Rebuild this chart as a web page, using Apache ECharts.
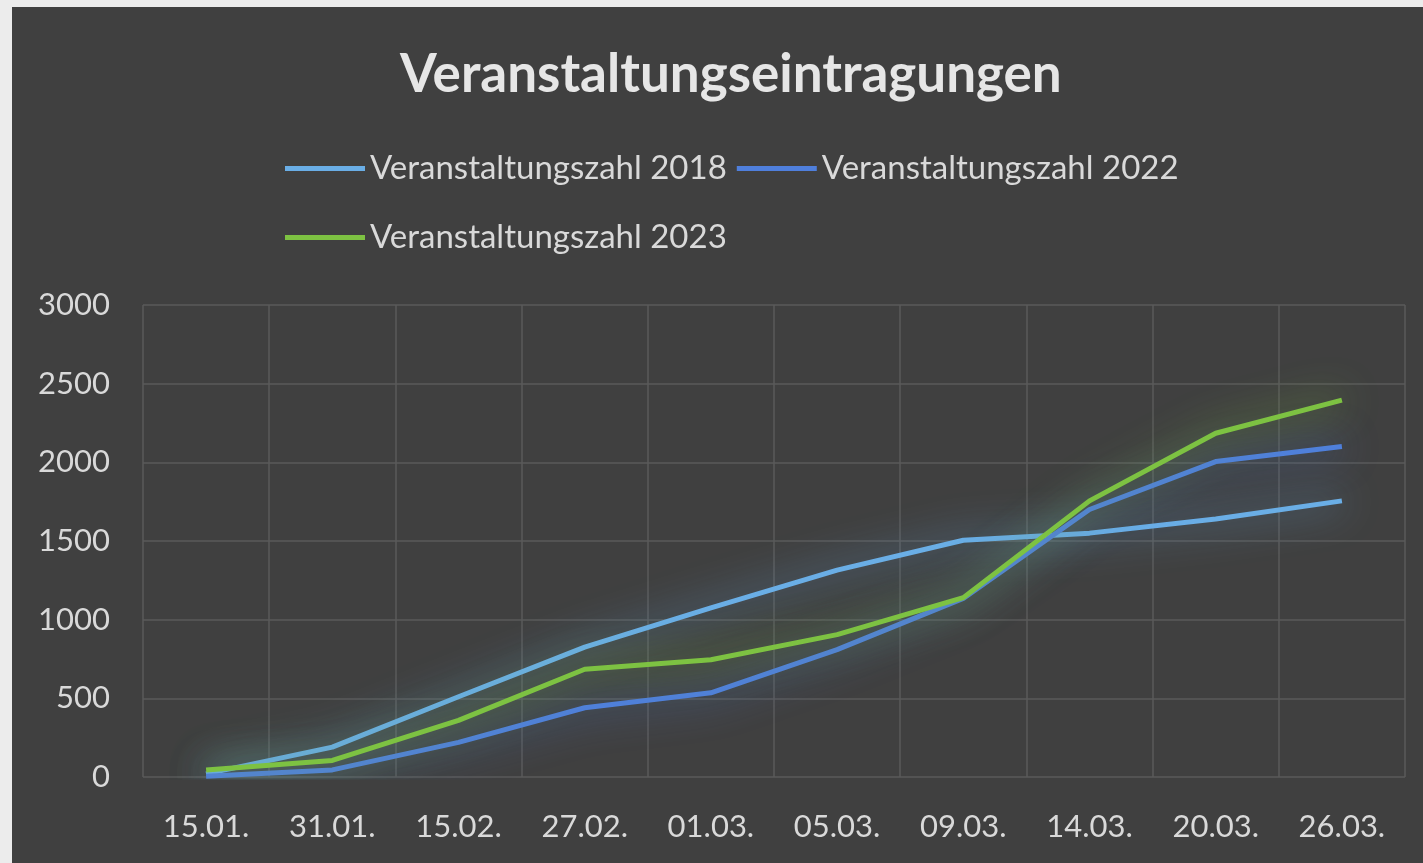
<!DOCTYPE html>
<html>
<head>
<meta charset="utf-8">
<script src="https://cdn.jsdelivr.net/npm/echarts@6/dist/echarts.min.js"></script>
<style>
  html, body { margin: 0; padding: 0; background: #ececec; }
  #myChart { position: absolute; left: 12px; top: 7px; width: 1411px; height: 856px; }
</style>
</head>
<body>
<div id="myChart"></div>
<script>
// Daten
var dates = ["15.01.", "31.01.", "15.02.", "27.02.", "01.03.", "05.03.", "09.03.", "14.03.", "20.03.", "26.03."];
var zahl2018 = [20, 190, 510, 825, 1075, 1315, 1505, 1550, 1640, 1755];
var zahl2022 = [5, 45, 220, 440, 535, 810, 1135, 1700, 2005, 2100];
var zahl2023 = [45, 105, 360, 685, 745, 905, 1140, 1755, 2185, 2395];
var yTicks = [0, 500, 1000, 1500, 2000, 2500, 3000];

var names = ["Veranstaltungszahl 2018", "Veranstaltungszahl 2022", "Veranstaltungszahl 2023"];
var colors = ["#6aaee6", "#4f7fdc", "#7dc242"];

function makeSeries(name, data, color) {
    return {
        name: name,
        type: "line",
        data: data,
        showSymbol: false,
        symbol: "none",
        lineStyle: {
            width: 5,
            color: color,
            shadowBlur: 38,
            shadowColor: color
        },
        itemStyle: { color: color }
    };
}

var myChart = echarts.init(document.getElementById("myChart"));
var legendText = { color: "#d9d9d9", fontSize: 33, fontFamily: "Lato" };

myChart.setOption({
    backgroundColor: "#404040",
    title: {
        text: "Veranstaltungseintragungen",
        left: 383,
        top: 36,
        textStyle: { color: "#e6e6e6", fontSize: 53, fontWeight: "bold", fontFamily: "Lato" }
    },
    legend: [
        {
            data: [names[0], names[1]],
            left: 268,
            top: 140,
            icon: "rect",
            itemWidth: 80,
            itemHeight: 5,
            itemGap: 10,
            textStyle: legendText
        },
        {
            data: [names[2]],
            left: 268,
            top: 209,
            icon: "rect",
            itemWidth: 80,
            itemHeight: 5,
            textStyle: legendText
        }
    ],
    grid: {
        left: 131,
        right: 18,
        top: 298,
        bottom: 86
    },
    xAxis: {
        type: "category",
        data: dates,
        boundaryGap: true,
        axisLine: { show: false },
        axisTick: { show: false },
        axisLabel: { color: "#d9d9d9", fontSize: 31, fontFamily: "Lato", margin: 34, interval: 0 },
        splitLine: { show: true, interval: 0, lineStyle: { color: "#5a5a5a", width: 1.5 } }
    },
    yAxis: {
        type: "value",
        min: yTicks[0],
        max: yTicks[yTicks.length - 1],
        interval: 500,
        axisLine: { show: false },
        axisTick: { show: false },
        axisLabel: {
            color: "#d9d9d9", fontSize: 31, fontFamily: "Lato", margin: 33,
            formatter: function (v) { return String(v); }
        },
        splitLine: { lineStyle: { color: "#5a5a5a", width: 1.5 } }
    },
    series: [
        makeSeries(names[0], zahl2018, colors[0]),
        makeSeries(names[1], zahl2022, colors[1]),
        makeSeries(names[2], zahl2023, colors[2])
    ]
});
</script>
</body>
</html>
